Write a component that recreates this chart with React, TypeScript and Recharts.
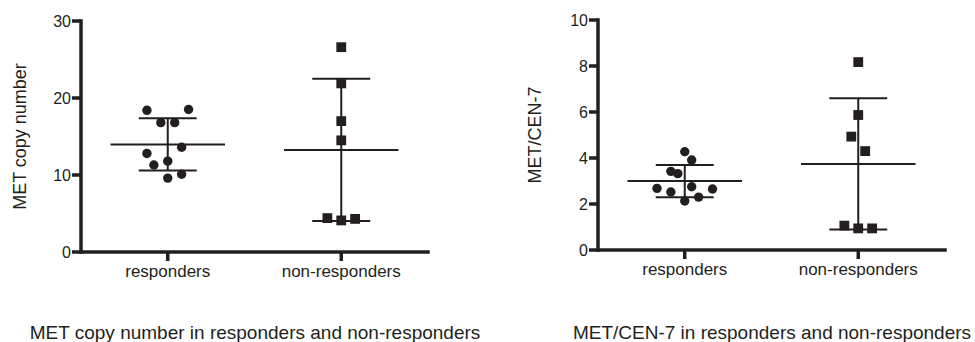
import {
  ScatterChart,
  Scatter,
  XAxis,
  YAxis,
  ReferenceLine,
  Label,
} from "recharts";

const INK = "#231f20";
const FONT = "'Liberation Sans', Arial, Helvetica, sans-serif";
const AXIS_W = 3.5;

const categories = ["responders", "non-responders"];

// MET copy number
const copyResponders = [18.4, 18.5, 16.8, 16.8, 13.6, 12.8, 11.3, 11.8, 10.1, 9.6];
const copyRespondersJitter = [-0.12, 0.12, -0.04, 0.04, 0.08, -0.12, -0.08, 0, 0.08, 0];
const copyNonResponders = [26.6, 21.9, 17.0, 14.5, 4.4, 4.1, 4.3];
const copyNonRespondersJitter = [0, 0, 0, 0, -0.08, 0, 0.08];
const copyTicks = [0, 10, 20, 30];

// MET/CEN-7 ratio
const ratioResponders = [4.27, 3.91, 3.42, 3.32, 2.68, 2.52, 2.75, 2.65, 2.3, 2.13];
const ratioRespondersJitter = [0, 0.04, -0.08, -0.04, -0.16, -0.08, 0.04, 0.16, 0.08, 0];
const ratioNonResponders = [8.17, 5.87, 4.93, 4.3, 1.06, 0.94, 0.94];
const ratioNonRespondersJitter = [0, 0, -0.04, 0.04, -0.08, 0, 0.08];
const ratioTicks = [0, 2, 4, 6, 8, 10];

const mean = (v: number[]) => v.reduce((a, b) => a + b, 0) / v.length;
const sd = (v: number[]) => {
  const m = mean(v);
  return Math.sqrt(v.reduce((a, b) => a + (b - m) ** 2, 0) / (v.length - 1));
};

const toPoints = (vals: number[], jitter: number[], pos: number) =>
  vals.map((y, i) => ({ x: pos + jitter[i], y }));

const CircleMark = (p: any) => <circle cx={p.cx} cy={p.cy} r={4.7} fill={INK} />;
const SquareMark = (p: any) => (
  <rect x={p.cx - 4.9} y={p.cy - 4.9} width={9.8} height={9.8} fill={INK} />
);

// x tick: text position comes in, axis sits tickSize + tickMargin above it
const XTick = (p: any) => (
  <g>
    <line x1={p.x} x2={p.x} y1={p.y - 13} y2={p.y - 4} stroke={INK} strokeWidth={AXIS_W} />
    <text x={p.x} y={p.y} dy="0.71em" textAnchor="middle" fill={INK} fontSize={17} fontFamily={FONT}>
      {categories[p.payload.value - 1]}
    </text>
  </g>
);

const YTick = (p: any) => (
  <g>
    <line x1={p.x + 1} x2={p.x + 10} y1={p.y} y2={p.y} stroke={INK} strokeWidth={AXIS_W} />
    <text x={p.x} y={p.y} dy="0.355em" textAnchor="end" fill={INK} fontSize={16} fontFamily={FONT}>
      {p.payload.value}
    </text>
  </g>
);

// mean line, SD caps and the whisker between them
function statLines(vals: number[], pos: number, key: string) {
  const m = mean(vals);
  const s = sd(vals);
  const line = { stroke: INK, strokeWidth: 2 };
  return [
    <ReferenceLine key={key + "m"} segment={[{ x: pos - 0.33, y: m }, { x: pos + 0.33, y: m }]} {...line} />,
    <ReferenceLine key={key + "u"} segment={[{ x: pos - 0.167, y: m + s }, { x: pos + 0.167, y: m + s }]} {...line} />,
    <ReferenceLine key={key + "l"} segment={[{ x: pos - 0.167, y: m - s }, { x: pos + 0.167, y: m - s }]} {...line} />,
    <ReferenceLine key={key + "v"} segment={[{ x: pos, y: m - s }, { x: pos, y: m + s }]} {...line} />,
  ];
}

type PanelProps = {
  left: number;
  width: number;
  margin: { top: number; right: number; bottom: number; left: number };
  yAxisWidth: number;
  labelX: number;
  yLabel: string;
  yTicks: number[];
  responders: number[];
  respondersJitter: number[];
  nonResponders: number[];
  nonRespondersJitter: number[];
};

function Panel(props: PanelProps) {
  const {
    left, width, margin, yAxisWidth, labelX, yLabel, yTicks,
    responders, respondersJitter, nonResponders, nonRespondersJitter,
  } = props;
  const yMax = yTicks[yTicks.length - 1];
  const axisLine = { stroke: INK, strokeWidth: AXIS_W, strokeLinecap: "square" as const };
  return (
    <div style={{ position: "absolute", left, top: 0 }}>
      <ScatterChart width={width} height={342} margin={margin}>
        <XAxis
          type="number"
          dataKey="x"
          domain={[0.5, 2.5]}
          ticks={[1, 2]}
          axisLine={false}
          tickLine={false}
          tickSize={9}
          tickMargin={4}
          height={30}
          tick={XTick}
        />
        <YAxis
          type="number"
          dataKey="y"
          domain={[0, yMax]}
          ticks={yTicks}
          width={yAxisWidth}
          axisLine={false}
          tickLine={false}
          tickSize={9}
          tickMargin={1}
          tick={YTick}
        >
          <Label
            content={(lp: any) => {
              const vb = lp.viewBox || { y: margin.top, height: 230 };
              const cy = vb.y + vb.height / 2;
              return (
                <text
                  x={labelX}
                  y={cy}
                  dy="0.35em"
                  transform={`rotate(-90 ${labelX} ${cy})`}
                  textAnchor="middle"
                  fill={INK}
                  fontSize={18}
                  fontFamily={FONT}
                >
                  {yLabel}
                </text>
              );
            }}
          />
        </YAxis>
        <ReferenceLine ifOverflow="visible" segment={[{ x: 0.5, y: 0 }, { x: 2.5, y: 0 }]} {...axisLine} />
        <ReferenceLine ifOverflow="visible" segment={[{ x: 0.5, y: 0 }, { x: 0.5, y: yMax }]} {...axisLine} />
        {statLines(responders, 1, "r")}
        {statLines(nonResponders, 2, "n")}
        <Scatter
          data={toPoints(responders, respondersJitter, 1)}
          shape={CircleMark}
          isAnimationActive={false}
        />
        <Scatter
          data={toPoints(nonResponders, nonRespondersJitter, 2)}
          shape={SquareMark}
          isAnimationActive={false}
        />
      </ScatterChart>
    </div>
  );
}

const captionStyle = {
  position: "absolute" as const,
  top: 323,
  fontSize: 19,
  lineHeight: "19px",
  fontFamily: FONT,
  color: INK,
  textAlign: "center" as const,
  whiteSpace: "nowrap" as const,
};

export default function App() {
  return (
    <div
      style={{
        position: "absolute",
        left: 0,
        top: 0,
        width: 975,
        height: 342,
        background: "#fff",
        overflow: "hidden",
      }}
    >
      <Panel
        left={0}
        width={490}
        margin={{ top: 21, right: 62, bottom: 60, left: 0 }}
        yAxisWidth={81}
        labelX={20}
        yLabel="MET copy number"
        yTicks={copyTicks}
        responders={copyResponders}
        respondersJitter={copyRespondersJitter}
        nonResponders={copyNonResponders}
        nonRespondersJitter={copyNonRespondersJitter}
      />
      <Panel
        left={490}
        width={485}
        margin={{ top: 20, right: 30, bottom: 62, left: 0 }}
        yAxisWidth={108}
        labelX={45}
        yLabel="MET/CEN-7"
        yTicks={ratioTicks}
        responders={ratioResponders}
        respondersJitter={ratioRespondersJitter}
        nonResponders={ratioNonResponders}
        nonRespondersJitter={ratioNonRespondersJitter}
      />
      <div style={{ ...captionStyle, left: 0, width: 510 }}>
        MET copy number in responders and non-responders
      </div>
      <div style={{ ...captionStyle, left: 572, width: 400 }}>
        MET/CEN-7 in responders and non-responders
      </div>
    </div>
  );
}
